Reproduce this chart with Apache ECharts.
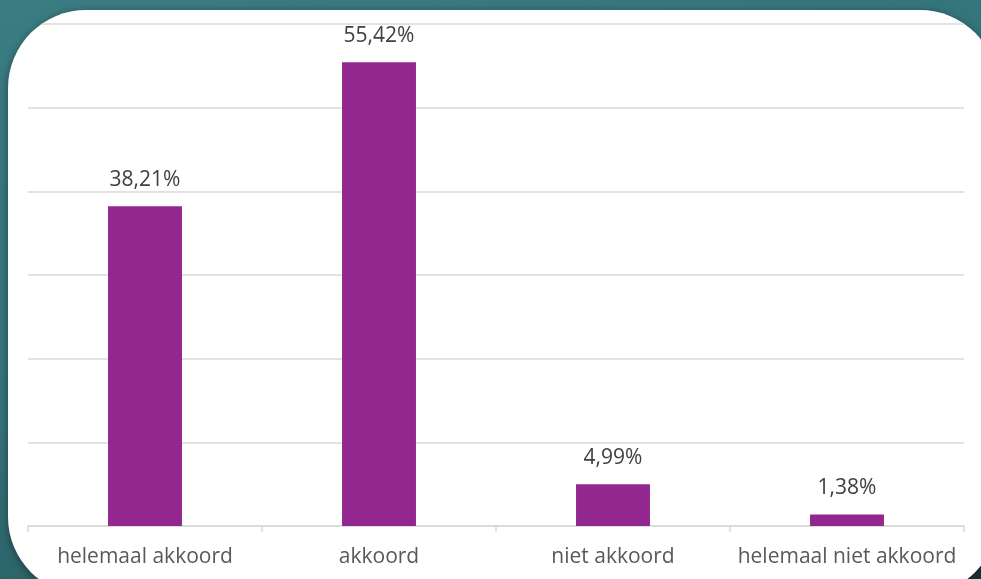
<!DOCTYPE html>
<html>
<head>
<meta charset="utf-8">
<script src="https://cdn.jsdelivr.net/npm/echarts@6/dist/echarts.min.js"></script>
<style>
html,body{margin:0;padding:0;width:981px;height:579px;overflow:hidden;}
body{background:linear-gradient(160deg,#3b7c82 0%,#33747a 45%,#25555a 80%,#17363a 100%);position:relative;}
#panel{position:absolute;left:8px;top:10px;width:990px;height:585px;border-radius:78px;overflow:hidden;background:#fff;box-shadow:0 2px 8px rgba(0,0,0,0.4);}
#c{position:absolute;left:-8px;top:-10px;width:981px;height:579px;}
</style>
</head>
<body>
<div id="panel"><div id="c"></div></div>
<script>
const categories = ['helemaal akkoord', 'akkoord', 'niet akkoord', 'helemaal niet akkoord'];
const values = [38.21, 55.42, 4.99, 1.38];
const valueLabels = ['38,21%', '55,42%', '4,99%', '1,38%'];

const chart = echarts.init(document.getElementById('c'), null, {renderer: 'canvas'});
const font = '"Open Sans", "DejaVu Sans", sans-serif';
chart.setOption({
  animation: false,
  backgroundColor: 'transparent',
  grid: {left: 28, right: 17, top: 24, bottom: 53, containLabel: false},
  xAxis: {
    type: 'category',
    data: categories,
    axisLine: {lineStyle: {color: '#d9d9d9', width: 1.5}},
    axisTick: {show: true, length: 6, lineStyle: {color: '#d9d9d9', width: 1.5}},
    axisLabel: {color: '#595959', fontFamily: font, fontSize: 21, margin: 21, interval: 0}
  },
  yAxis: {
    type: 'value',
    min: 0, max: 60, interval: 10,
    axisLine: {show: false},
    axisTick: {show: false},
    axisLabel: {show: false},
    splitLine: {lineStyle: {color: '#d9d9d9', width: 1.5}}
  },
  series: [{
    type: 'bar',
    data: values,
    barWidth: '31.6%',
    itemStyle: {color: '#92278f'},
    label: {
      show: true,
      position: 'top',
      distance: 16,
      color: '#404040',
      fontFamily: font,
      fontSize: 21,
      formatter: p => valueLabels[p.dataIndex]
    }
  }]
});
</script>
</body>
</html>
